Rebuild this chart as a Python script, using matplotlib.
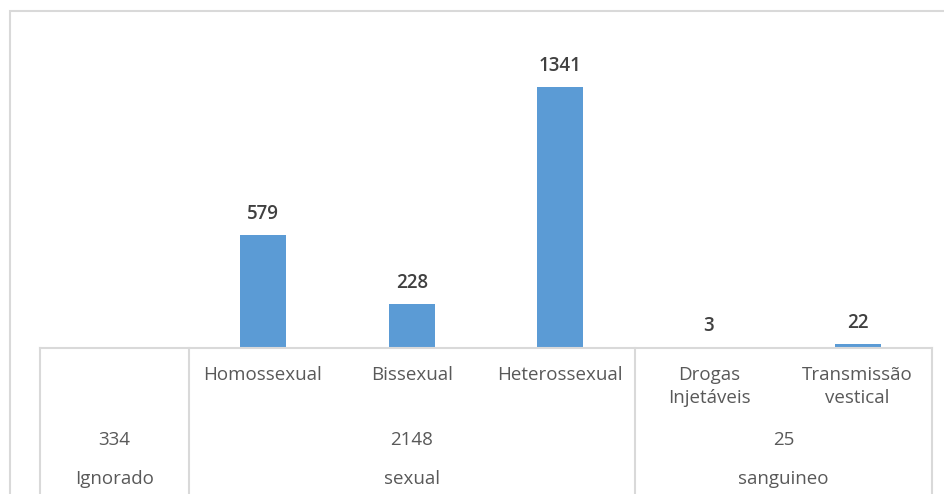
import numpy as np
import matplotlib
matplotlib.use("Agg")
import matplotlib.pyplot as plt
from matplotlib.lines import Line2D
from matplotlib.patches import Rectangle
from matplotlib.transforms import blended_transform_factory

# categories (first row of the axis table)
categories = ["", "Homossexual", "Bissexual", "Heterossexual", "Drogas\nInjetáveis", "Transmissão\nvestical"]
# bar values, Ignorado has no bar in the original
values = [np.nan, 579, 228, 1341, 3, 22]

# group rows
groups = ["Ignorado", "sexual", "sanguineo"]
group_totals = [334, 2148, 25]
group_spans = [(0, 0), (1, 3), (4, 5)]

plt.rcParams["font.family"] = ["Open Sans", "DejaVu Sans"]

W, H = 945, 494
fig = plt.figure(figsize=(W / 100, H / 100), dpi=100)


def fy(py):
    # pixel row from top -> figure fraction
    return (H - py) / H


ax_left, ax_right = 40, 932
base_y, top_y = 348, 20
ax = fig.add_axes([ax_left / W, fy(base_y), (ax_right - ax_left) / W, (base_y - top_y) / H])

x = np.arange(len(categories))
px_per_unit = (348 - 87) / 1341
ax.bar(x, values, width=0.31, color="#5B9BD5")
ax.set_xlim(-0.5, len(categories) - 0.5)
ax.set_ylim(0, (base_y - top_y) / px_per_unit)

for xi, v in zip(x, values):
    if np.isnan(v):
        continue
    ax.annotate(f"{int(v)}", (xi, v),
                xytext=(0, 8), textcoords="offset points",
                ha="center", va="bottom", fontsize=13.5, fontweight="semibold", color="#404040")

for s in ["top", "right", "left"]:
    ax.spines[s].set_visible(False)
ax.spines["bottom"].set_color("#d9d9d9")
ax.spines["bottom"].set_linewidth(1.5)
ax.set_xticks([])
ax.set_yticks([])

trans = blended_transform_factory(ax.transData, fig.transFigure)

# table vertical lines
for xv in [-0.5, 0.5, 3.5, 5.5]:
    fig.add_artist(Line2D([xv, xv], [fy(base_y), 0], transform=trans,
                          color="#d9d9d9", lw=1.5))

txt_color = "#595959"
for xi, cat in zip(x, categories):
    if cat:
        fig.text(xi, fy(366), cat, transform=trans, ha="center", va="top",
                 fontsize=13.5, color=txt_color, linespacing=1.35)

for (a, b), tot, name in zip(group_spans, group_totals, groups):
    cx = (a + b) / 2
    fig.text(cx, fy(440), str(tot), transform=trans, ha="center", va="center",
             fontsize=13.5, color=txt_color)
    fig.text(cx, fy(479), name, transform=trans, ha="center", va="center",
             fontsize=13.5, color=txt_color)

# outer chart border
fig.add_artist(Rectangle((10 / W, -0.05), 1.0, fy(11) + 0.05, transform=fig.transFigure,
                         fill=False, edgecolor="#d9d9d9", lw=1.5))

fig.savefig("out.png", dpi=100)
